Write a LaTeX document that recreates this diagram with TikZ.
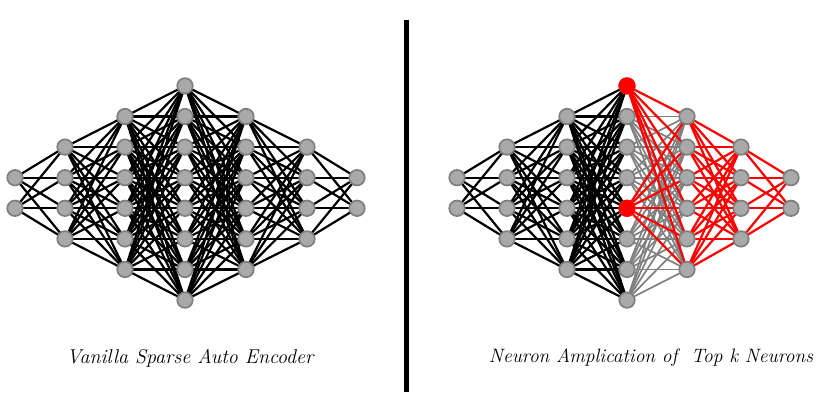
\documentclass[tikz,border=0pt]{standalone}
\usepackage{fontspec}
\usetikzlibrary{backgrounds}
\definecolor{nodefill}{HTML}{A9A9A9}
\definecolor{nodeline}{HTML}{7F7F7F}
\definecolor{edgegray}{HTML}{808080}
\tikzset{
  neuron/.style={circle, minimum size=15.5pt, inner sep=0pt, fill=nodefill, draw=nodeline, line width=1.7pt},
  redneuron/.style={neuron, fill=red, draw=red},
  blackedge/.style={draw=black, line width=2.2pt},
  grayedge/.style={draw=edgegray, line width=1.7pt},
  rededge/.style={draw=red, line width=2.2pt},
  caption/.style={font=\fontsize{20}{24}\selectfont\itshape, inner sep=0pt},
  divider/.style={line width=5pt}
}
\begin{document}
\begin{tikzpicture}[x=1pt,y=-1pt]
\useasboundingbox (0,0) rectangle (827,410);
% left network nodes
\foreach \l/\n/\x in {1/2/15,2/4/65,3/6/125,4/8/185,5/6/246,6/4/307,7/2/357}{
  \foreach \i in {1,...,\n}{
    \node[neuron] (L\l-\i) at (\x,{193+(\i-(\n+1)/2)*30.6}) {};
  }
}
% right network nodes
\foreach \l/\n/\x in {1/2/457,2/4/507,3/6/567,4/8/627,5/6/687,6/4/741,7/2/791}{
  \foreach \i in {1,...,\n}{
    \node[neuron] (R\l-\i) at (\x,{193+(\i-(\n+1)/2)*30.6}) {};
  }
}
\node[redneuron] at (R4-1.center) {};
\node[redneuron] at (R4-5.center) {};
\begin{pgfonlayer}{background}
  % left edges
  \foreach \a/\na/\nb in {1/2/4,2/4/6,3/6/8,4/8/6,5/6/4,6/4/2}{
    \pgfmathtruncatemacro\b{\a+1}
    \foreach \i in {1,...,\na}{
      \foreach \j in {1,...,\nb}{
        \draw[blackedge] (L\a-\i.center) -- (L\b-\j.center);
      }
    }
  }
  % right edges: encoder part in black
  \foreach \a/\na/\nb in {1/2/4,2/4/6,3/6/8}{
    \pgfmathtruncatemacro\b{\a+1}
    \foreach \i in {1,...,\na}{
      \foreach \j in {1,...,\nb}{
        \draw[blackedge] (R\a-\i.center) -- (R\b-\j.center);
      }
    }
  }
  % inactive neurons in gray
  \foreach \i in {2,3,4,6,7,8}{
    \foreach \j in {1,...,6}{
      \draw[grayedge] (R4-\i.center) -- (R5-\j.center);
    }
  }
  % top k neurons in red
  \foreach \i in {1,5}{
    \foreach \j in {1,...,6}{
      \draw[rededge] (R4-\i.center) -- (R5-\j.center);
    }
  }
  \foreach \a/\na/\nb in {5/6/4,6/4/2}{
    \pgfmathtruncatemacro\b{\a+1}
    \foreach \i in {1,...,\na}{
      \foreach \j in {1,...,\nb}{
        \draw[rededge] (R\a-\i.center) -- (R\b-\j.center);
      }
    }
  }
\end{pgfonlayer}
% divider
\coordinate (d1) at (406,20);
\coordinate (d2) at (406,392);
\draw[divider] (d1) -- (d2);
% captions
\node[caption] (capL) at (190,358) {Vanilla Sparse Auto Encoder};
\node[caption, font=\fontsize{19.4}{23}\selectfont\itshape] (capR) at (651,358) {Neuron Amplication of\ \ Top k Neurons};
\end{tikzpicture}
\end{document}
